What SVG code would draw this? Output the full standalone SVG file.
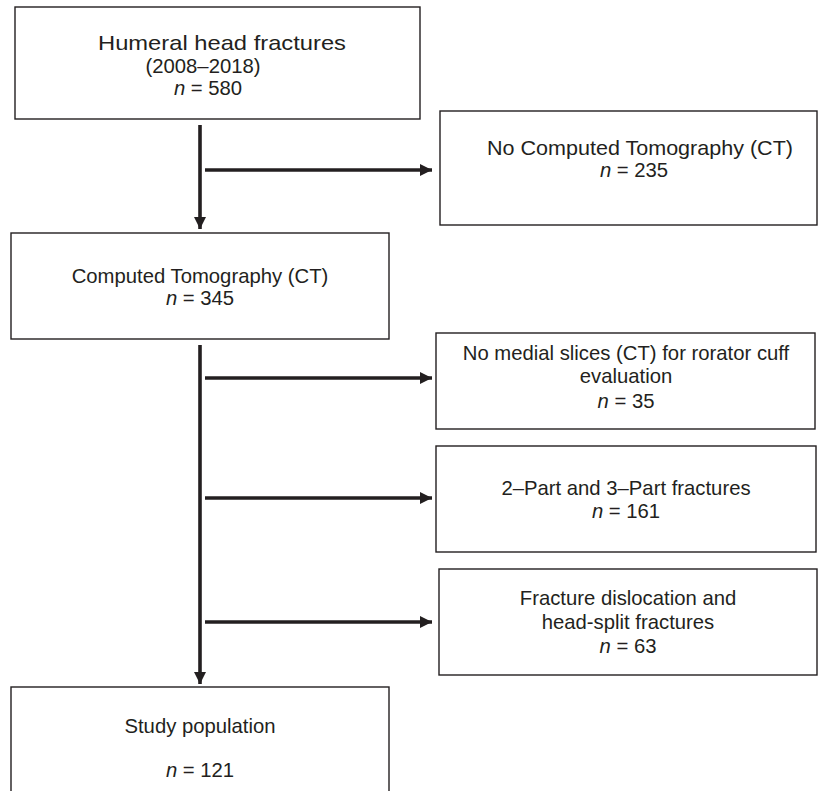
<svg xmlns="http://www.w3.org/2000/svg" width="818" height="791" viewBox="0 0 818 791">
<style>
.box{fill:#fff;stroke:#231f20;stroke-width:1.4}
.t{font-family:"Liberation Sans",Arial,sans-serif;font-size:20.3px;fill:#231f20;text-anchor:middle}
.i{font-style:italic}
.c{stroke:#231f20;stroke-width:3.6;fill:none}
</style>
<defs>
<marker id="ah" markerUnits="userSpaceOnUse" markerWidth="13" markerHeight="12" refX="12" refY="6" orient="auto">
<path d="M0,0 L12,6 L0,12 Z" fill="#231f20"/>
</marker>
</defs>
<rect width="818" height="791" fill="#fff"/>
<g id="connectors">
<line class="c" x1="200" y1="125" x2="200" y2="229" marker-end="url(#ah)"/>
<line class="c" x1="205" y1="170" x2="432" y2="170" marker-end="url(#ah)"/>
<line class="c" x1="200" y1="345" x2="200" y2="684" marker-end="url(#ah)"/>
<line class="c" x1="205" y1="378" x2="432" y2="378" marker-end="url(#ah)"/>
<line class="c" x1="205" y1="498" x2="432" y2="498" marker-end="url(#ah)"/>
<line class="c" x1="205" y1="622" x2="432" y2="622" marker-end="url(#ah)"/>
</g>
<g id="n1">
<rect class="box" x="15" y="7" width="405" height="112"/>
<text class="t" x="222" y="50" textLength="248" lengthAdjust="spacingAndGlyphs">Humeral head fractures</text>
<text class="t" x="203" y="73">(2008–2018)</text>
<text class="t" x="208" y="95"><tspan class="i">n</tspan> = 580</text>
</g>
<g id="n2">
<rect class="box" x="440" y="111" width="377" height="114"/>
<text class="t" x="640" y="155" textLength="306" lengthAdjust="spacingAndGlyphs">No Computed Tomography (CT)</text>
<text class="t" x="634" y="177"><tspan class="i">n</tspan> = 235</text>
</g>
<g id="n3">
<rect class="box" x="11" y="233" width="378" height="106"/>
<text class="t" x="200" y="283">Computed Tomography (CT)</text>
<text class="t" x="200" y="305"><tspan class="i">n</tspan> = 345</text>
</g>
<g id="n4">
<rect class="box" x="436" y="333" width="379" height="96"/>
<text class="t" x="626" y="360">No medial slices (CT) for rorator cuff</text>
<text class="t" x="626" y="383">evaluation</text>
<text class="t" x="626" y="408"><tspan class="i">n</tspan> = 35</text>
</g>
<g id="n5">
<rect class="box" x="436" y="446" width="380" height="106"/>
<text class="t" x="626" y="495">2–Part and 3–Part fractures</text>
<text class="t" x="626" y="518"><tspan class="i">n</tspan> = 161</text>
</g>
<g id="n6">
<rect class="box" x="439" y="569" width="378" height="106"/>
<text class="t" x="628" y="605">Fracture dislocation and</text>
<text class="t" x="628" y="629">head-split fractures</text>
<text class="t" x="628" y="653"><tspan class="i">n</tspan> = 63</text>
</g>
<g id="n7">
<rect class="box" x="11" y="687" width="378" height="120"/>
<text class="t" x="200" y="733">Study population</text>
<text class="t" x="200" y="777"><tspan class="i">n</tspan> = 121</text>
</g>
</svg>
